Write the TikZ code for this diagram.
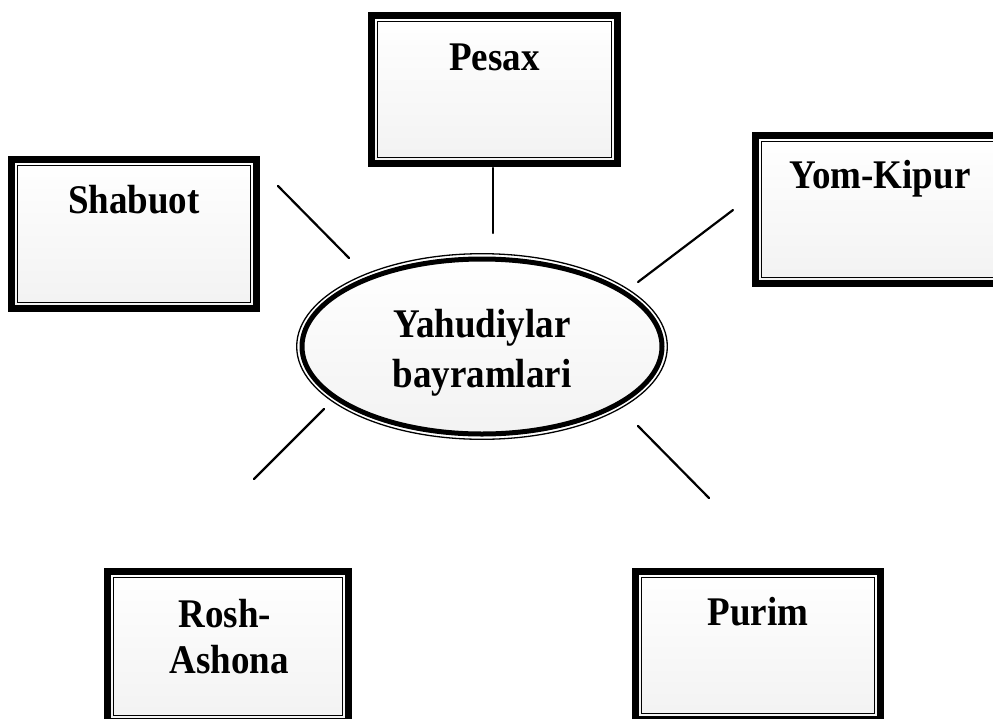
\documentclass[tikz,border=0pt]{standalone}
\usepackage{fontspec}
\setmainfont{Liberation Serif}
\usetikzlibrary{shapes.geometric}
\newcommand\talltext[1]{\scalebox{1}[1.1]{#1}}
\tikzset{
  holbox/.style 2 args={draw=black, line width=7pt, rectangle, inner sep=0pt, outer sep=0pt,
    top color=white, bottom color=black!5,
    minimum width=#1, minimum height=#2},
  innerline/.style={line width=1.4pt, draw=black},
  lbl/.style={font=\fontsize{37}{42}\selectfont\bfseries, inner sep=0pt, anchor=base},
  conn/.style={line width=2.2pt, line cap=round},
  hub/.style={ellipse, draw=black, line width=5pt, inner sep=0pt, outer sep=0pt,
    top color=white, bottom color=black!5,
    minimum width=360pt, minimum height=175pt}
}
\begin{document}
\begin{tikzpicture}[x=1pt, y=-1pt]
\useasboundingbox (0,0) rectangle (993,718);
\clip (0,0) rectangle (993,718);

% boxes
\node[holbox={246pt}{148pt}] (pesax) at (494.5,89.5) {};
\node[holbox={245pt}{149pt}] (shabuot) at (134,234) {};
\node[holbox={249pt}{148pt}] (yomkipur) at (880,209.5) {};
\node[holbox={241pt}{150pt}] (rosh) at (228,646.5) {};
\node[holbox={245pt}{148pt}] (purim) at (758,645.5) {};
\foreach \b in {pesax,shabuot,yomkipur,rosh,purim}{
  \draw[innerline] ([shift={(6.2pt,6.2pt)}]\b.south west) rectangle ([shift={(-6.2pt,-6.2pt)}]\b.north east);
}

% central ellipse
\node[hub] (hub) at (482,346.5) {};
\draw[line width=1.3pt] (hub.center) ellipse [x radius=185.3pt, y radius=92.8pt];

% labels
\node[lbl] (tpesax) at (494.5,70) {\talltext{Pesax}};
\node[lbl] (tshabuot) at (134,213) {\talltext{Shabuot}};
\node[lbl] (tyom) at (880,188) {\talltext{Yom-Kipur}};
\node[lbl] (trosh1) at (225,627) {\talltext{Rosh-}};
\node[lbl] (trosh2) at (229,673) {\talltext{Ashona}};
\node[lbl] (tpurim) at (758,625) {\talltext{Purim}};
\node[lbl] (thub1) at (482,337) {\talltext{Yahudiylar}};
\node[lbl] (thub2) at (482,387) {\talltext{bayramlari}};

% connector ends
\coordinate (p1) at (493,168); \coordinate (p2) at (493,233);
\coordinate (s1) at (278,186); \coordinate (s2) at (349,258);
\coordinate (y1) at (733,210); \coordinate (y2) at (638,282);
\coordinate (r1) at (324,409); \coordinate (r2) at (254,479);
\coordinate (u1) at (638,426); \coordinate (u2) at (709,498);
\draw[conn] (p1) -- (p2);
\draw[conn] (s1) -- (s2);
\draw[conn] (y1) -- (y2);
\draw[conn] (r1) -- (r2);
\draw[conn] (u1) -- (u2);
\end{tikzpicture}
\end{document}
